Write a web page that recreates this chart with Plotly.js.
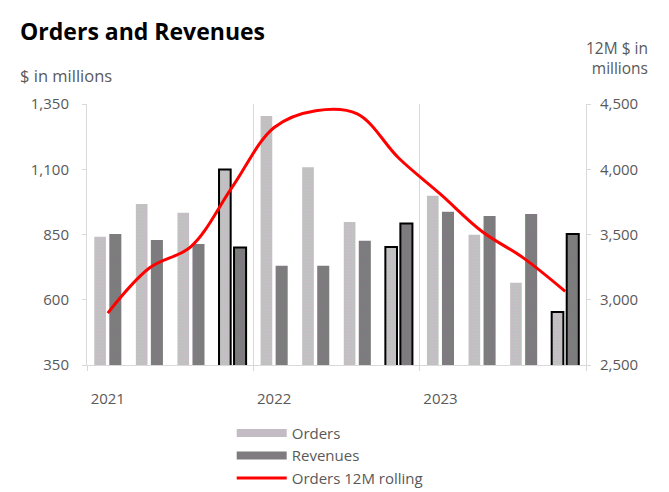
<!DOCTYPE html>
<html>
<head>
<meta charset="utf-8">
<script src="https://cdn.plot.ly/plotly-3.0.1.min.js"></script>
<style>html,body{margin:0;padding:0;background:#fff;}</style>
</head>
<body>
<div id="chart" style="width:669px;height:492px;"></div>
<script>
// Quarter index 0..11 (2021 Q1 .. 2023 Q4)
const quarters = [0,1,2,3,4,5,6,7,8,9,10,11];
const quarterLabels = ['Q1 2021','Q2 2021','Q3 2021','Q4 2021','Q1 2022','Q2 2022','Q3 2022','Q4 2022','Q1 2023','Q2 2023','Q3 2023','Q4 2023'];
const yearTickPos = [0,4,8];
const yearLabels = ['2021','2022','2023'];
const orders = [841, 967, 933, 1099, 1304, 1108, 898, 802, 998, 849, 665, 553];
const revenues = [852, 829, 814, 800, 730, 730, 826, 892, 937, 921, 929, 852];
const orders12M = [2898, 3243, 3408, 3867, 4320, 4449, 4425, 4084, 3809, 3523, 3319, 3064];
const outlined = [false,false,false,true,false,false,false,true,false,false,false,true];

const font = 'Open Sans, Noto Sans, sans-serif';
const grey = '#595959';
const axisGrey = '#d9d9d9';
const lineW = outlined.map(o => o ? 2 : 0);

const traces = [
  {
    type:'bar', x: quarters, y: orders, name:'Orders', showlegend:false,
    width:0.28, offset:-0.325, hovertext: quarterLabels,
    marker:{color:'#c4bcc4', line:{color:'#000', width:lineW},
      pattern:{shape:'.', fgcolor:'#b9cbb9', bgcolor:'#c7bbc7', size:3, solidity:0.3}}
  },
  {
    type:'bar', x: quarters, y: revenues, name:'Revenues', showlegend:false,
    width:0.29, offset:0.036, hovertext: quarterLabels,
    marker:{color:'#7e7c7e', line:{color:'#000', width:lineW},
      pattern:{shape:'.', fgcolor:'#738573', bgcolor:'#827882', size:3, solidity:0.3}}
  },
  {type:'scatter', mode:'lines', x:[null], y:[null], name:'Orders', line:{color:'#c4bcc4', width:8}},
  {type:'scatter', mode:'lines', x:[null], y:[null], name:'Revenues', line:{color:'#7e7c7e', width:8}},
  {
    type:'scatter', mode:'lines', x: quarters, y: orders12M, yaxis:'y2', name:'Orders 12M rolling',
    line:{color:'#ff0000', width:3, shape:'spline', smoothing:1}
  }
];

const layout = {
  width:669, height:492,
  margin:{l:87, r:83, t:104, b:127, autoexpand:false},
  paper_bgcolor:'#fff', plot_bgcolor:'#fff',
  font:{family:font, size:15, color:grey},
  title:{text:'<b>Orders and Revenues</b>', xref:'container', yref:'container', x:0.03, xanchor:'left', y:0.935, yanchor:'middle',
    font:{family:font, size:23, color:'#000'}},
  barmode:'overlay',
  xaxis:{
    range:[-0.5, 11.5], tickmode:'array', tickvals: yearTickPos, ticktext: yearLabels,
    showgrid:false, zeroline:false, showline:true, linecolor:axisGrey, linewidth:1,
    ticks:'', ticklabelstandoff:20, tickfont:{size:15, color:grey},
    minor:{tick0:-0.5, dtick:4, showgrid:true, gridcolor:axisGrey, gridwidth:1, ticks:'outside', ticklen:5, tickcolor:axisGrey}
  },
  yaxis:{
    range:[350,1350], tick0:350, dtick:250, tickformat:',', showgrid:false, zeroline:false,
    showline:true, linecolor:axisGrey, ticks:'outside', ticklen:4, tickcolor:axisGrey,
    ticklabelstandoff:10, tickfont:{size:15, color:grey}
  },
  yaxis2:{
    overlaying:'y', side:'right', range:[2500,4500], tick0:2500, dtick:500, tickformat:',',
    showgrid:false, zeroline:false, showline:true, linecolor:axisGrey, ticks:'outside', ticklen:4, tickcolor:axisGrey,
    ticklabelstandoff:6, tickfont:{size:15, color:grey}
  },
  legend:{x:0.29, xanchor:'left', y:-0.198, yanchor:'top', orientation:'v', itemwidth:50,
    font:{size:15, color:grey}, tracegroupgap:0, bgcolor:'rgba(0,0,0,0)'},
  annotations:[
    {xref:'paper', yref:'paper', x:-0.138, y:1.111, xanchor:'left', yanchor:'middle', showarrow:false,
      text:'$ in millions', font:{size:16.5, color:grey}},
    {xref:'paper', yref:'paper', x:1.128, y:1.178, xanchor:'right', yanchor:'middle', showarrow:false, align:'right',
      text:'12M $ in<br>millions', font:{size:15.5, color:grey}}
  ]
};

Plotly.newPlot('chart', traces, layout, {displayModeBar:false, staticPlot:true});
</script>
</body>
</html>
